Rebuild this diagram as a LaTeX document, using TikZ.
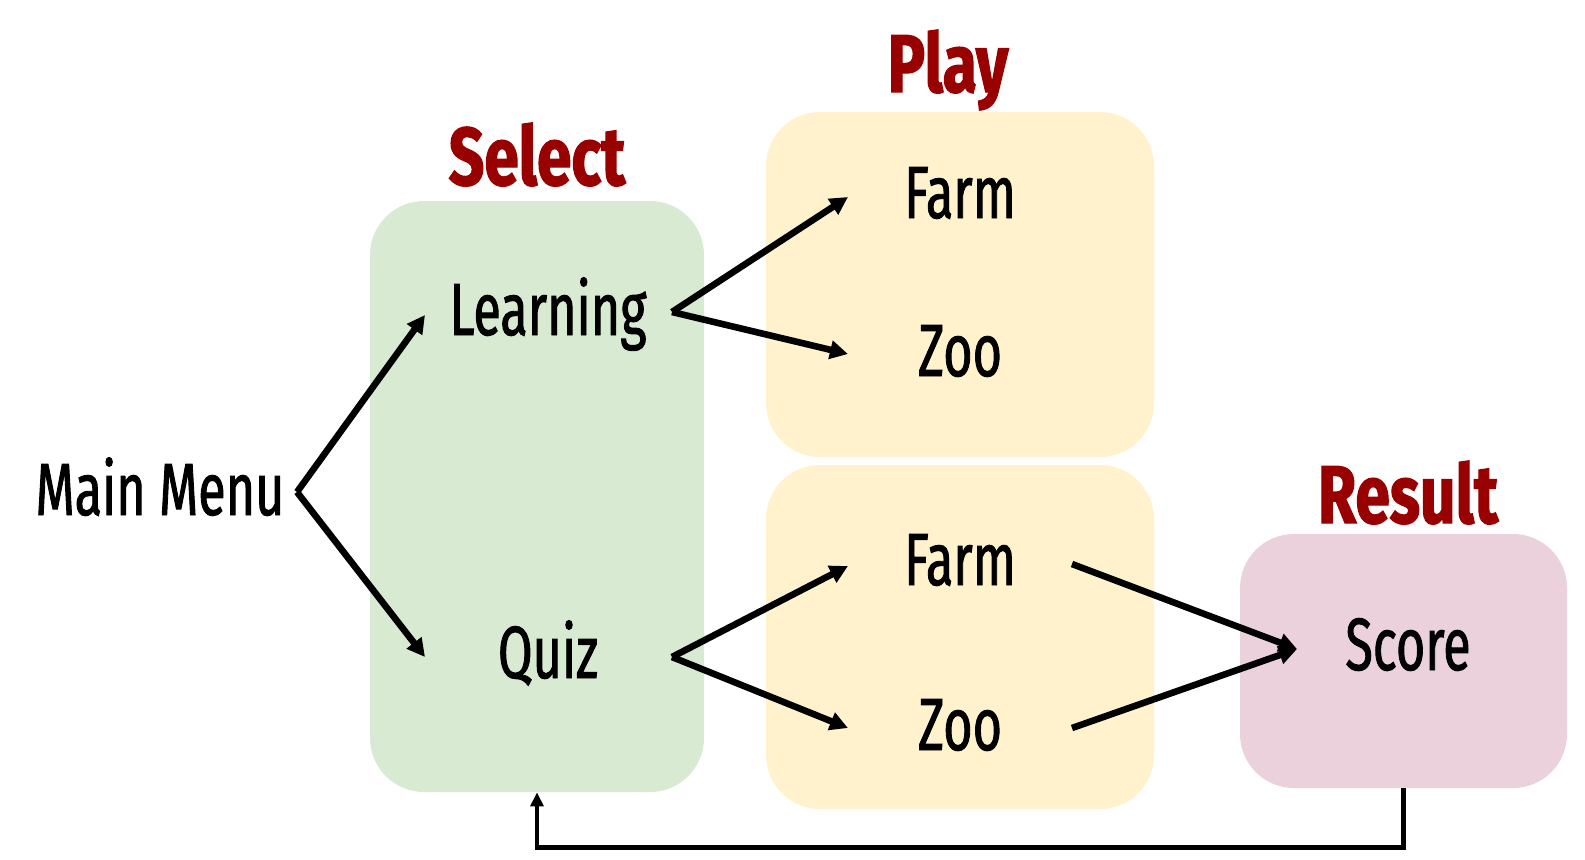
\documentclass[tikz,border=0pt]{standalone}
\usepackage{fontspec}
\setmainfont{Fira Sans}[FakeStretch=0.68, FakeBold=1.2]
\newfontfamily\headfont{Fira Sans}[FakeStretch=0.76, FakeBold=1.5]
\usetikzlibrary{arrows.meta}
\definecolor{selgreen}{HTML}{D9EAD3}
\definecolor{playyellow}{HTML}{FFF2CC}
\definecolor{respink}{HTML}{EAD1DC}
\definecolor{headred}{HTML}{990000}
\tikzset{
  panel/.style={rounded corners=27pt, inner sep=0pt, draw=none},
  label/.style={font=\fontsize{37}{40}\selectfont, inner sep=0pt, anchor=base, text=black},
  heading/.style={font=\headfont\bfseries\fontsize{41}{44}\selectfont, inner sep=0pt, anchor=base, text=headred},
  link/.style={line width=3.3pt, -{Triangle[length=9pt,width=9pt]}},
  back/.style={line width=2.2pt, -{Triangle[length=7pt,width=6.5pt]}}
}
\begin{document}
\begin{tikzpicture}[x=0.5pt,y=-0.5pt]
\useasboundingbox (0,0) rectangle (1585,859);
% panels
\node[panel, fill=selgreen, minimum width=167pt, minimum height=295.5pt] (selbox) at (537,496.5) {};
\node[panel, fill=playyellow, minimum width=194pt, minimum height=172.5pt] (playtop) at (960,284.5) {};
\node[panel, fill=playyellow, minimum width=194pt, minimum height=172pt] (playbot) at (960,637) {};
\node[panel, fill=respink, minimum width=163.5pt, minimum height=127pt] (resbox) at (1403.5,661) {};
% headings
\node[heading] (hsel) at (537,185) {Select};
\node[heading] (hplay) at (948,92) {Play};
\node[heading] (hres) at (1408,523) {Result};
% labels
\node[label] (mm) at (160,515) {Main Menu};
\node[label] (learn) at (548,335) {Learning};
\node[label] (quiz) at (548,678) {Quiz};
\node[label] (farm1) at (960,218) {Farm};
\node[label] (zoo1) at (960,376) {Zoo};
\node[label] (farm2) at (960,585) {Farm};
\node[label] (zoo2) at (960,750) {Zoo};
\node[label] (score) at (1408,670) {Score};
% fork and tip points
\coordinate (fmm) at (297,492);
\coordinate (tlearn) at (425,315);
\coordinate (tquiz) at (425,657);
\coordinate (flearn) at (672,312);
\coordinate (tfarm1) at (848,197);
\coordinate (tzoo1) at (848,354);
\coordinate (fquiz) at (672,657);
\coordinate (tfarm2) at (848,566);
\coordinate (tzoo2) at (848,728);
\coordinate (sfarm2) at (1072,564);
\coordinate (szoo2) at (1072,728);
\coordinate (tscore) at (1297,649);
% connectors
\draw[link] (fmm) -- (tlearn);
\draw[link] (fmm) -- (tquiz);
\draw[link] (flearn) -- (tfarm1);
\draw[link] (flearn) -- (tzoo1);
\draw[link] (fquiz) -- (tfarm2);
\draw[link] (fquiz) -- (tzoo2);
\draw[link] (sfarm2) -- (tscore);
\draw[link] (szoo2) -- (tscore);
\draw[back] (resbox.south) -- ++(0,59) -| (selbox.south);
\end{tikzpicture}
\end{document}
